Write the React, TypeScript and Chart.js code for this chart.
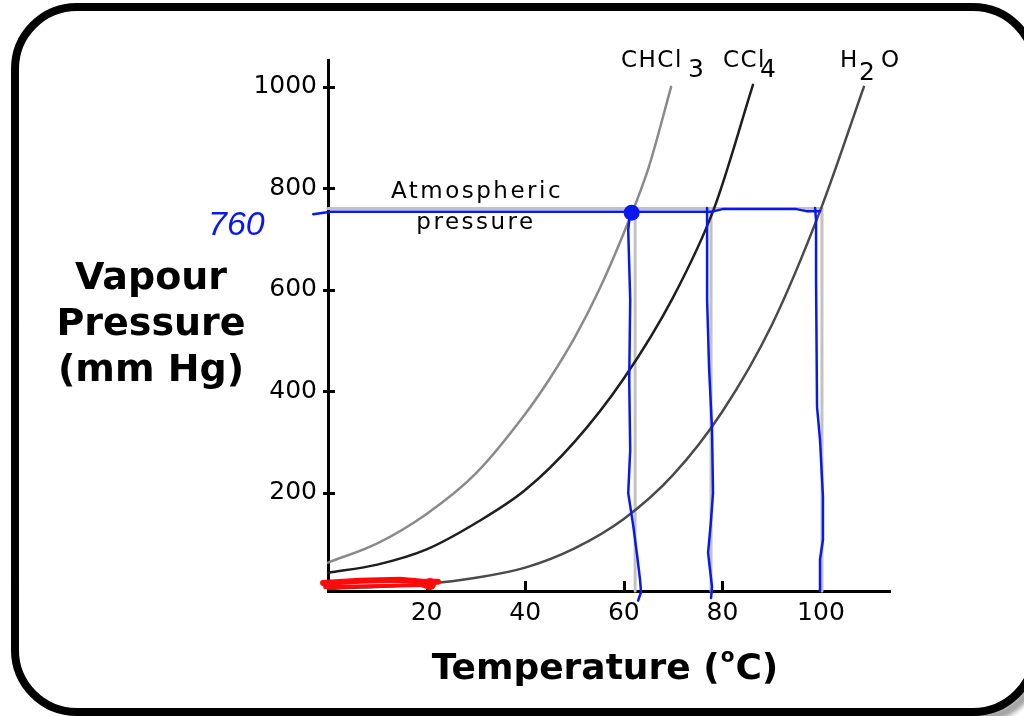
import React, { useEffect, useRef } from "react";
import { Chart, registerables } from "chart.js";

Chart.register(...registerables);

// ---- axis ticks ----
const xTicks = [20, 40, 60, 80, 100];
const yTicks = [200, 400, 600, 800, 1000];

// ---- vapour pressure curves (temperature °C, pressure mm Hg) ----
const chcl3T = [0, 10, 20, 30, 40, 45, 50, 55, 60, 65, 69.6];
const chcl3P = [62, 100, 158, 238, 355, 425, 505, 600, 712, 840, 1000];

const ccl4T = [0, 10, 20, 30, 40, 50, 60, 70, 78.3, 86.2];
const ccl4P = [42, 58, 88, 140, 205, 300, 425, 585, 760, 1004];

const h2oT = [0, 20, 30, 40, 50, 60, 70, 80, 90, 100, 108.7];
const h2oP = [10, 20, 32, 52, 90, 148, 235, 360, 530, 760, 1000];

// ---- atmospheric pressure & boiling points ----
const atmPressure = 760;
const boilT = [62.3, 77.7, 100.2];
const axisBottomP = 6;

// ---- hand-drawn blue annotation ----
const blueHT = [-3, 0.5, 78, 80, 95, 97, 99.8];
const blueHP = [749, 754, 754, 759, 759, 755, 755];
const blueV1T = [61.3, 60.9, 61.3, 61.1, 61.3, 60.9, 61.9, 62.7, 63.3, 63.5, 62.9];
const blueV1P = [753, 718, 580, 422, 284, 199, 136, 77, 28, 4, -13];
const blueV2T = [76.9, 76.9, 76.9, 77.3, 77.9, 78.1, 77.7, 77.1, 77.9, 77.7];
const blueV2P = [761, 678, 580, 446, 324, 199, 146, 81, 14, -8];
const blueV3T = [98.8, 99.0, 99.0, 99.2, 99.8, 100.4, 100.4, 99.8, 99.8];
const blueV3P = [761, 737, 619, 369, 304, 192, 107, 68, 6];
const blueDotT = [61.6];
const blueDotP = [752];

// ---- hand-drawn red scribble ----
const redAT = [-1.0, 6.5, 14.6, 19.7, 22.3];
const redAP = [22, 26, 28, 24, 24];
const redBT = [-0.6, 10.5, 18.7, 20.7];
const redBP = [14, 16, 18, 12];
const redDotT = [20.7];
const redDotP = [20];

const pts = (xs: number[], ys: number[]) => xs.map((x, i) => ({ x, y: ys[i] }));

const BLUE = "#0a18f0";
const RED = "#ff0a0a";

function txt(
  ctx: CanvasRenderingContext2D,
  s: string,
  x: number,
  y: number,
  font: string,
  color = "#000",
  align: CanvasTextAlign = "left",
  spacing = "0px"
) {
  ctx.save();
  ctx.font = font;
  ctx.fillStyle = color;
  ctx.textAlign = align;
  ctx.textBaseline = "alphabetic";
  (ctx as any).letterSpacing = spacing;
  ctx.fillText(s, x, y);
  ctx.restore();
}

const decor = {
  id: "decor",
  beforeDraw(chart: any) {
    const ctx: CanvasRenderingContext2D = chart.ctx;
    const W = chart.width;
    const H = chart.height;
    ctx.save();
    ctx.fillStyle = "#fff";
    ctx.fillRect(0, 0, W, H);
    // shadow at bottom-right
    ctx.save();
    ctx.beginPath();
    ctx.rect(930, 620, W, H);
    ctx.clip();
    ctx.strokeStyle = "rgba(90,90,90,0.55)";
    ctx.lineWidth = 10;
    ctx.filter = "blur(2px)";
    ctx.beginPath();
    (ctx as any).roundRect(20, 12, 1020, 706, 62);
    ctx.stroke();
    ctx.restore();
    ctx.filter = "none";
    // frame
    ctx.strokeStyle = "#000";
    ctx.lineWidth = 8;
    ctx.beginPath();
    (ctx as any).roundRect(15, 7, 1020, 705, 62);
    ctx.stroke();
    ctx.restore();
  },
  beforeDatasetsDraw(chart: any) {
    const ctx: CanvasRenderingContext2D = chart.ctx;
    const xs = chart.scales.x;
    const ys = chart.scales.y;
    const area = chart.chartArea;
    ctx.save();
    ctx.strokeStyle = "#000";
    ctx.lineWidth = 3;
    ctx.lineCap = "butt";
    for (const v of yTicks) {
      const py = Math.round(ys.getPixelForValue(v)) + 0.5;
      ctx.beginPath();
      ctx.moveTo(area.left - 5, py);
      ctx.lineTo(area.left + 7, py);
      ctx.stroke();
    }
    for (const v of xTicks) {
      const px = Math.round(xs.getPixelForValue(v)) + 0.5;
      ctx.beginPath();
      ctx.moveTo(px, area.bottom);
      ctx.lineTo(px, area.bottom - 10);
      ctx.stroke();
    }
    ctx.restore();
  },
  afterDraw(chart: any) {
    const ctx: CanvasRenderingContext2D = chart.ctx;
    // y axis title
    const yf = "bold 38px 'DejaVu Sans'";
    txt(ctx, "Vapour", 151, 289, yf, "#000", "center");
    txt(ctx, "Pressure", 151, 335, yf, "#000", "center");
    txt(ctx, "(mm Hg)", 151, 381, yf, "#000", "center");

    // x axis title with superscript o
    ctx.save();
    const xf = "bold 36px 'DejaVu Sans'";
    const sf = "bold 20px 'DejaVu Sans'";
    ctx.font = xf;
    const w1 = ctx.measureText("Temperature (").width;
    const w3 = ctx.measureText("C)").width;
    ctx.font = sf;
    const w2 = ctx.measureText("o").width + 2;
    ctx.restore();
    const total = w1 + w2 + w3;
    const x0 = 605 - total / 2;
    txt(ctx, "Temperature (", x0, 679, xf);
    txt(ctx, "o", x0 + w1 + 1, 662, sf);
    txt(ctx, "C)", x0 + w1 + w2, 679, xf);

    // curve labels
    const lf = "23px 'DejaVu Sans'";
    const subf = "25px 'DejaVu Sans'";
    txt(ctx, "CHCl", 621, 67, lf, "#000", "left", "1.5px");
    txt(ctx, "3", 688, 77, subf);
    txt(ctx, "CCl", 723, 67, lf, "#000", "left", "1.5px");
    txt(ctx, "4", 760, 77, subf);
    txt(ctx, "H", 840, 67, lf);
    txt(ctx, "2", 859, 80, subf);
    txt(ctx, "O", 881, 67, lf);

    // atmospheric pressure label
    const af = "23px 'DejaVu Sans'";
    txt(ctx, "Atmospheric", 477, 198, af, "#000", "center", "2.5px");
    txt(ctx, "pressure", 476, 229, af, "#000", "center", "2.5px");

    // hand-written 760
    txt(ctx, "760", 208, 235, "italic 34px 'Liberation Sans'", BLUE);
  },
};

export default function App() {
  const ref = useRef<HTMLCanvasElement>(null);

  useEffect(() => {
    document.body.style.margin = "0";
    const canvas = ref.current!;
    const line = (data: any, color: string, width: number, smooth = false) => ({
      data,
      showLine: true,
      borderColor: color,
      borderWidth: width,
      pointRadius: 0,
      tension: 0,
      cubicInterpolationMode: smooth ? "monotone" : "default",
      fill: false,
      clip: false,
      borderCapStyle: "round",
      borderJoinStyle: "round",
    });
    const dot = (data: any, color: string, r: number) => ({
      data,
      showLine: false,
      pointRadius: r,
      pointBackgroundColor: color,
      pointBorderWidth: 0,
      borderColor: color,
      clip: false,
    });
    const GRAY = "#c2c2c2";
    const chart = new Chart(canvas, {
      type: "scatter",
      data: {
        datasets: [
          dot(pts(redDotT, redDotP), RED, 6),
          line(pts(redAT, redAP), RED, 6),
          line(pts(redBT, redBP), RED, 4),
          dot(pts(blueDotT, blueDotP), BLUE, 8),
          line(pts(blueHT, blueHP), BLUE, 2.5),
          line(pts(blueV1T, blueV1P), BLUE, 2.5),
          line(pts(blueV2T, blueV2P), BLUE, 2.5),
          line(pts(blueV3T, blueV3P), BLUE, 2.5),
          line(pts(chcl3T, chcl3P), "#8a8a8a", 2.5, true),
          line(pts(ccl4T, ccl4P), "#1e1e1e", 2.5, true),
          line(pts(h2oT, h2oP), "#4a4a4a", 2.5, true),
          line(pts([0, boilT[2]], [atmPressure, atmPressure]), GRAY, 3),
          line(pts([boilT[0], boilT[0]], [atmPressure, axisBottomP]), GRAY, 3),
          line(pts([boilT[1], boilT[1]], [atmPressure, axisBottomP]), GRAY, 3),
          line(pts([boilT[2], boilT[2]], [atmPressure, axisBottomP]), GRAY, 3),
        ] as any,
      },
      options: {
        animation: false,
        responsive: false,
        events: [],
        layout: { padding: { top: 60, right: 134, bottom: 0, left: 0 } },
        plugins: {
          legend: { display: false },
          tooltip: { enabled: false },
        },
        scales: {
          x: {
            type: "linear",
            min: 0,
            max: 114,
            afterBuildTicks: (s: any) => {
              s.ticks = xTicks.map((v) => ({ value: v }));
            },
            afterFit: (s: any) => {
              s.height = 125;
            },
            grid: { display: false, drawTicks: false },
            border: { display: true, color: "#000", width: 3 },
            ticks: {
              color: "#000",
              padding: 7,
              maxRotation: 0,
              callback: (v: any) => String(v),
              font: { family: "'DejaVu Sans'", size: 25 },
            },
          },
          y: {
            type: "linear",
            min: axisBottomP,
            max: 1053,
            afterBuildTicks: (s: any) => {
              s.ticks = yTicks.map((v) => ({ value: v }));
            },
            afterFit: (s: any) => {
              s.width = 328;
            },
            grid: { display: false, drawTicks: false },
            border: { display: true, color: "#000", width: 3 },
            ticks: {
              color: "#000",
              padding: 11,
              callback: (v: any) => String(v),
              font: { family: "'DejaVu Sans'", size: 25 },
            },
          },
        },
      },
      plugins: [decor as any],
    });
    return () => chart.destroy();
  }, []);

  return (
    <div style={{ position: "fixed", left: 0, top: 0, width: 1024, height: 716 }}>
      <canvas ref={ref} width={1024} height={716} style={{ display: "block", width: 1024, height: 716 }} />
    </div>
  );
}
